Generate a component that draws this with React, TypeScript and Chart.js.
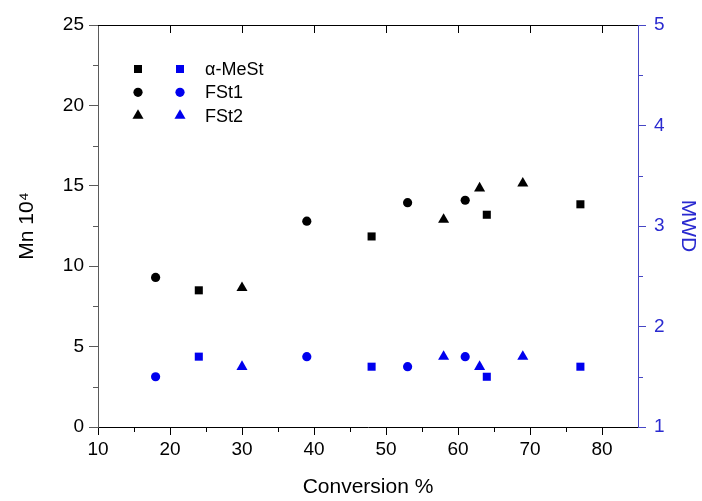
import React, { useEffect, useRef } from 'react';
import { Chart, registerables } from 'chart.js';

Chart.register(...registerables);

// ---- data ----
const legendLabels = ['α-MeSt', 'FSt1', 'FSt2'];

const aMeStConv = [24, 48, 64, 77];
const aMeStMn = [8.5, 11.85, 13.2, 13.85];
const aMeStMWD = [1.7, 1.6, 1.5, 1.6];

const fst1Conv = [18, 39, 53, 61];
const fst1Mn = [9.3, 12.8, 13.95, 14.1];
const fst1MWD = [1.5, 1.7, 1.6, 1.7];

const fst2Conv = [30, 58, 63, 69];
const fst2Mn = [8.65, 12.9, 14.85, 15.15];
const fst2MWD = [1.6, 1.7, 1.6, 1.7];

const xTicks = [10, 20, 30, 40, 50, 60, 70, 80];
const xMinorTicks = [15, 25, 35, 45, 55, 65, 75];
const yTicks = [0, 5, 10, 15, 20, 25];
const yMinorTicks = [2.5, 7.5, 12.5, 17.5, 22.5];
const y2Ticks = [1, 2, 3, 4, 5];
const y2MinorTicks = [1.5, 2.5, 3.5, 4.5];

const BLACK = '#000000';
const BLUE = '#0000ee';
const AXIS_BLUE = '#4646c4';
const LABEL_BLUE = '#2a2ad0';
const AXIS_GRAY = '#5a5a5a';
const FONT = 'Arial, "Liberation Sans", Helvetica, sans-serif';

const pts = (xs: number[], ys: number[]) => xs.map((x, i) => ({ x, y: ys[i] }));

function drawSymbol(ctx: CanvasRenderingContext2D, style: string, x: number, y: number, color: string) {
  ctx.save();
  ctx.fillStyle = color;
  ctx.beginPath();
  if (style === 'rect') {
    ctx.rect(x - 4, y - 4, 8, 8);
  } else if (style === 'circle') {
    ctx.arc(x, y, 4.6, 0, Math.PI * 2);
  } else {
    const r = 6.4;
    ctx.moveTo(x, y - r);
    ctx.lineTo(x + r * Math.sin((2 * Math.PI) / 3), y - r * Math.cos((2 * Math.PI) / 3));
    ctx.lineTo(x + r * Math.sin((4 * Math.PI) / 3), y - r * Math.cos((4 * Math.PI) / 3));
    ctx.closePath();
  }
  ctx.fill();
  ctx.restore();
}

const framePlugin = {
  id: 'frameAndLegend',
  afterDraw(chart: any) {
    const ctx: CanvasRenderingContext2D = chart.ctx;
    const { left, right, top, bottom } = chart.chartArea;
    const xs = chart.scales.x;
    const ys = chart.scales.y;
    const y2s = chart.scales.y2;
    ctx.save();
    ctx.lineWidth = 1;
    // top frame line with inward major ticks
    ctx.strokeStyle = BLACK;
    ctx.beginPath();
    ctx.moveTo(left, Math.round(top) + 0.5);
    ctx.lineTo(right, Math.round(top) + 0.5);
    xTicks.forEach((v) => {
      const px = Math.round(xs.getPixelForValue(v)) + 0.5;
      if (v === xTicks[0]) return;
      ctx.moveTo(px, top);
      ctx.lineTo(px, top + 8);
    });
    ctx.stroke();
    // bottom minor ticks
    ctx.beginPath();
    xMinorTicks.forEach((v) => {
      const px = Math.round(xs.getPixelForValue(v)) + 0.5;
      ctx.moveTo(px, bottom);
      ctx.lineTo(px, bottom + 5);
    });
    ctx.stroke();
    // left minor ticks
    ctx.strokeStyle = AXIS_GRAY;
    ctx.beginPath();
    yMinorTicks.forEach((v) => {
      const py = Math.round(ys.getPixelForValue(v)) + 0.5;
      ctx.moveTo(left, py);
      ctx.lineTo(left - 5, py);
    });
    ctx.stroke();
    // right minor ticks
    ctx.strokeStyle = AXIS_BLUE;
    ctx.beginPath();
    y2MinorTicks.forEach((v) => {
      const py = Math.round(y2s.getPixelForValue(v)) + 0.5;
      ctx.moveTo(right, py);
      ctx.lineTo(right + 5, py);
    });
    ctx.stroke();

    // legend
    const styles = ['rect', 'circle', 'triangle'];
    ctx.font = `18px ${FONT}`;
    ctx.fillStyle = BLACK;
    ctx.textBaseline = 'middle';
    ctx.textAlign = 'left';
    legendLabels.forEach((label, i) => {
      const y = top + 44 + i * 23.3;
      drawSymbol(ctx, styles[i], left + 40, y, BLACK);
      drawSymbol(ctx, styles[i], left + 82, y, BLUE);
      ctx.fillStyle = BLACK;
      ctx.fillText(label, left + 107, y + 1);
    });
    ctx.restore();
  },
};

export default function App() {
  const ref = useRef<HTMLCanvasElement | null>(null);

  useEffect(() => {
    document.body.style.margin = '0';
    const canvas = ref.current;
    if (!canvas) return;

    const mk = (label: string, xs: number[], ys: number[], style: string, color: string, axis: string) => ({
      label,
      data: pts(xs, ys),
      yAxisID: axis,
      pointStyle: style,
      pointRadius: style === 'rect' ? 5.7 : style === 'circle' ? 4.6 : 6.4,
      pointBackgroundColor: color,
      pointBorderColor: color,
      pointBorderWidth: 0,
      backgroundColor: color,
      borderColor: color,
      showLine: false,
    });

    const chart = new Chart(canvas, {
      type: 'scatter',
      data: {
        datasets: [
          mk('α-MeSt Mn', aMeStConv, aMeStMn, 'rect', BLACK, 'y'),
          mk('FSt1 Mn', fst1Conv, fst1Mn, 'circle', BLACK, 'y'),
          mk('FSt2 Mn', fst2Conv, fst2Mn, 'triangle', BLACK, 'y'),
          mk('α-MeSt MWD', aMeStConv, aMeStMWD, 'rect', BLUE, 'y2'),
          mk('FSt1 MWD', fst1Conv, fst1MWD, 'circle', BLUE, 'y2'),
          mk('FSt2 MWD', fst2Conv, fst2MWD, 'triangle', BLUE, 'y2'),
        ],
      },
      options: {
        responsive: false,
        animation: false,
        devicePixelRatio: 1,
        layout: { padding: { top: 25, left: 0, right: 0, bottom: 0 } },
        plugins: {
          legend: { display: false },
          tooltip: { enabled: false },
          title: { display: false },
        },
        scales: {
          x: {
            type: 'linear',
            position: 'bottom',
            min: 10,
            max: 85,
            afterBuildTicks: (scale: any) => {
              scale.ticks = xTicks.map((v) => ({ value: v }));
            },
            afterFit: (scale: any) => {
              scale.height = 74;
            },
            ticks: {
              color: BLACK,
              font: { size: 19, family: FONT },
              padding: 3,
              maxRotation: 0,
            },
            grid: {
              drawOnChartArea: false,
              drawTicks: true,
              tickLength: 8,
              tickColor: BLACK,
            },
            border: { display: true, color: BLACK, width: 1 },
            title: {
              display: true,
              text: 'Conversion %',
              color: BLACK,
              font: { size: 21, family: FONT },
              padding: { top: 0, bottom: 1 },
            },
          },
          y: {
            type: 'linear',
            position: 'left',
            min: 0,
            max: 25,
            afterBuildTicks: (scale: any) => {
              scale.ticks = yTicks.map((v) => ({ value: v }));
            },
            afterFit: (scale: any) => {
              scale.width = 98;
            },
            ticks: {
              color: BLACK,
              font: { size: 19, family: FONT },
              padding: 5,
            },
            grid: {
              drawOnChartArea: false,
              drawTicks: true,
              tickLength: 9,
              tickColor: AXIS_GRAY,
            },
            border: { display: true, color: AXIS_GRAY, width: 1 },
            title: {
              display: true,
              text: 'Mn 10⁴',
              color: BLACK,
              font: { size: 21, family: FONT },
              padding: { top: 15, bottom: 0 },
            },
          },
          y2: {
            type: 'linear',
            position: 'right',
            min: 1,
            max: 5,
            afterBuildTicks: (scale: any) => {
              scale.ticks = y2Ticks.map((v) => ({ value: v }));
            },
            afterFit: (scale: any) => {
              scale.width = 64;
            },
            ticks: {
              color: LABEL_BLUE,
              font: { size: 19, family: FONT },
              padding: 8,
            },
            grid: {
              drawOnChartArea: false,
              drawTicks: true,
              tickLength: 8,
              tickColor: AXIS_BLUE,
            },
            border: { display: true, color: AXIS_BLUE, width: 1 },
            title: {
              display: true,
              text: 'MWD',
              color: LABEL_BLUE,
              font: { size: 21, family: FONT },
              padding: { top: 2, bottom: 0 },
            },
          },
        },
      },
      plugins: [framePlugin],
    } as any);

    return () => {
      chart.destroy();
    };
  }, []);

  return (
    <div style={{ width: 702, height: 501, background: '#ffffff' }}>
      <canvas ref={ref} width={702} height={501} style={{ display: 'block' }} />
    </div>
  );
}
